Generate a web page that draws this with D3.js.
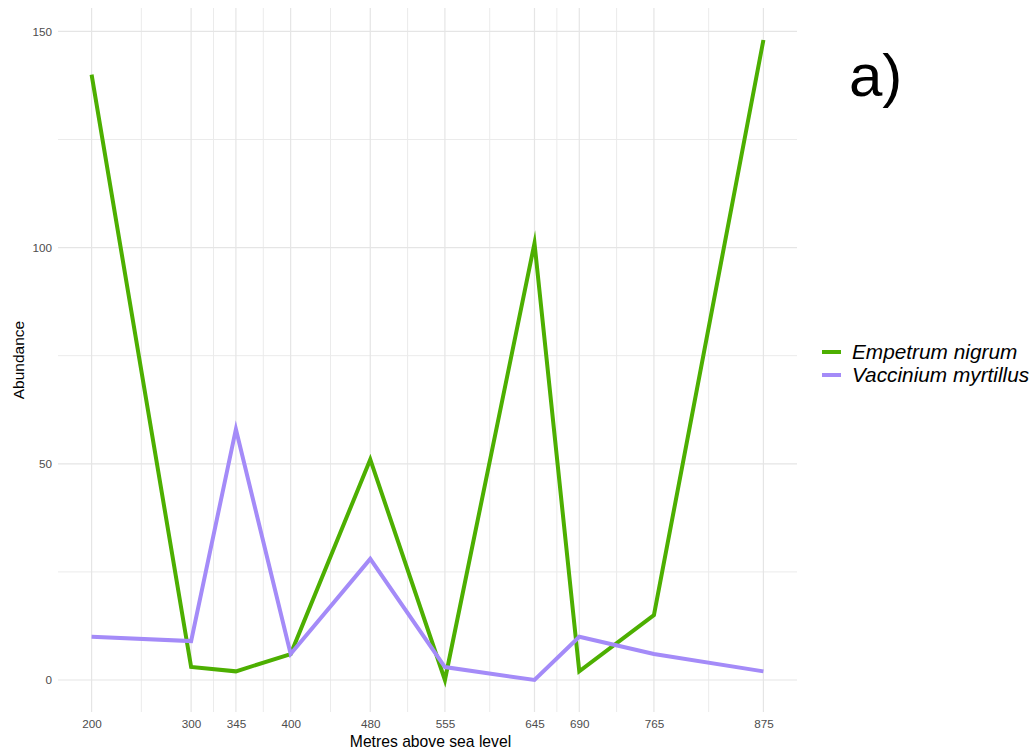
<!DOCTYPE html>
<html>
<head>
<meta charset="utf-8">
<script src="https://cdn.jsdelivr.net/npm/d3@7"></script>
<style>
  html, body { margin: 0; padding: 0; background: #fff; }
  svg { display: block; font-family: "Liberation Sans", Arial, sans-serif; }
</style>
</head>
<body>
<svg id="chart" width="1035" height="751"></svg>
<script>
// Altitude of each sampling site (m a.s.l.)
const altitudes = [200, 300, 345, 400, 480, 555, 645, 690, 765, 875];
// Abundance per species at each altitude
const empetrum = [140, 3, 2, 6, 51, 0, 101, 2, 15, 148];
const vaccinium = [10, 9, 58, 6, 28, 3, 0, 10, 6, 2];
const speciesNames = ["Empetrum nigrum", "Vaccinium myrtillus"];
const speciesColors = ["#4DAF01", "#A48BF8"];
const yTicks = [0, 50, 100, 150];
const yMinor = [25, 75, 125];

const series = [
  { name: speciesNames[0], color: speciesColors[0], values: empetrum },
  { name: speciesNames[1], color: speciesColors[1], values: vaccinium }
];

const svg = d3.select("#chart");
const panel = { left: 58, right: 797, top: 8, bottom: 712 };

// 5% padding on each side of the data range
const xMin = d3.min(altitudes), xMax = d3.max(altitudes);
const xPad = (xMax - xMin) * 0.05;
const x = d3.scaleLinear().domain([xMin - xPad, xMax + xPad]).range([panel.left, panel.right]);

const allY = empetrum.concat(vaccinium);
const yLo = d3.min(allY), yHi = d3.max(allY);
const yPad = (yHi - yLo) * 0.05;
const y = d3.scaleLinear().domain([yLo - yPad, yHi + yPad]).range([panel.bottom, panel.top]);

// Minor x grid sits halfway between neighbouring altitude breaks
const xMinor = d3.pairs(altitudes).map(([a, b]) => (a + b) / 2);

const grid = svg.append("g");
grid.selectAll(".ymin").data(yMinor).join("line")
  .attr("x1", panel.left).attr("x2", panel.right)
  .attr("y1", d => y(d)).attr("y2", d => y(d))
  .attr("stroke", "#EBEBEB").attr("stroke-width", 1);
grid.selectAll(".xmin").data(xMinor).join("line")
  .attr("y1", panel.top).attr("y2", panel.bottom)
  .attr("x1", d => x(d)).attr("x2", d => x(d))
  .attr("stroke", "#EBEBEB").attr("stroke-width", 1);
grid.selectAll(".ymaj").data(yTicks).join("line")
  .attr("x1", panel.left).attr("x2", panel.right)
  .attr("y1", d => y(d)).attr("y2", d => y(d))
  .attr("stroke", "#E5E5E5").attr("stroke-width", 1.2);
grid.selectAll(".xmaj").data(altitudes).join("line")
  .attr("y1", panel.top).attr("y2", panel.bottom)
  .attr("x1", d => x(d)).attr("x2", d => x(d))
  .attr("stroke", "#E5E5E5").attr("stroke-width", 1.2);

// Axes (labels only, no domain or tick marks)
const xAxis = svg.append("g")
  .attr("transform", `translate(0,${panel.bottom})`)
  .call(d3.axisBottom(x).tickValues(altitudes).tickSize(0).tickPadding(8));
const yAxis = svg.append("g")
  .attr("transform", `translate(${panel.left},0)`)
  .call(d3.axisLeft(y).tickValues(yTicks).tickSize(0).tickPadding(6));
[xAxis, yAxis].forEach(a => {
  a.select(".domain").remove();
  a.selectAll("text").attr("fill", "#4D4D4D").style("font-size", "11.7px")
    .style("font-family", "Liberation Sans, Arial, sans-serif");
});

// Lines
const line = d3.line().x((d, i) => x(altitudes[i])).y(d => y(d));
svg.append("g").selectAll("path").data(series).join("path")
  .attr("d", d => line(d.values))
  .attr("fill", "none")
  .attr("stroke", d => d.color)
  .attr("stroke-width", 4)
  .attr("stroke-linejoin", "miter")
  .attr("stroke-miterlimit", 10);

// Axis titles
svg.append("text")
  .attr("x", (panel.left + panel.right) / 2 + 3).attr("y", 747)
  .attr("text-anchor", "middle").style("font-size", "15.7px").attr("fill", "#000")
  .text("Metres above sea level");
svg.append("text")
  .attr("transform", `translate(24,${(panel.top + panel.bottom) / 2}) rotate(-90)`)
  .attr("text-anchor", "middle").style("font-size", "15.5px").attr("fill", "#000")
  .text("Abundance");

// Legend
const legend = svg.append("g").attr("transform", "translate(822,352)");
const items = legend.selectAll("g").data(series).join("g")
  .attr("transform", (d, i) => `translate(0,${i * 23})`);
items.append("line").attr("x1", 0).attr("x2", 19).attr("y1", 0).attr("y2", 0)
  .attr("stroke", d => d.color).attr("stroke-width", 4);
items.append("text").attr("x", 30).attr("y", 0).attr("dy", "0.35em")
  .style("font-size", "20.8px").style("font-style", "italic").attr("fill", "#000")
  .text(d => d.name);

// Panel tag
svg.append("text").attr("x", 849).attr("y", 96)
  .style("font-size", "60px").attr("fill", "#000").text("a)");
</script>
</body>
</html>
